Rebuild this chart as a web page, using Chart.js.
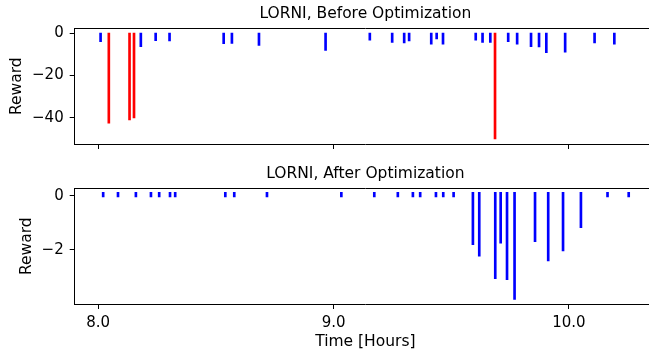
<!DOCTYPE html>
<html>
<head>
<meta charset="utf-8">
<script src="https://cdn.jsdelivr.net/npm/chart.js@4.4.1/dist/chart.umd.min.js"></script>
<style>
    html, body { margin: 0; padding: 0; background: #fff; }
    body { width: 649px; height: 356px; overflow: hidden; position: relative; }
    .panel { position: absolute; left: 0; width: 656px; }
    #topPanel { top: 0; height: 160px; }
    #bottomPanel { top: 160px; height: 196px; }
</style>
</head>
<body>
<div class="panel" id="topPanel"><canvas id="beforeChart"></canvas></div>
<div class="panel" id="bottomPanel"><canvas id="afterChart"></canvas></div>
<script>
// reward events over time (hours), before optimization
const beforeTimes = [8.010, 8.181, 8.244, 8.303, 8.533, 8.568, 8.683, 8.966, 9.154, 9.249,
    9.300, 9.321, 9.415, 9.438, 9.465, 9.604, 9.633, 9.666, 9.742, 9.780,
    9.839, 9.873, 9.904, 9.984, 10.109, 10.193];
const beforeRewards = [-4.0, -6.3, -3.5, -3.6, -4.9, -4.8, -5.7, -8.1, -3.3, -4.3,
    -4.6, -3.6, -5.2, -2.7, -5.1, -3.3, -4.3, -4.3, -4.0, -5.1,
    -6.3, -6.5, -9.2, -9.0, -4.6, -5.2];
// large penalties (drawn red)
const failTimes = [8.045, 8.133, 8.152, 9.686];
const failRewards = [-42.6, -41.1, -40.1, -50.0];

// after optimization
const afterTimes = [8.021, 8.084, 8.160, 8.224, 8.259, 8.305, 8.327, 8.540, 8.578, 8.717,
    9.033, 9.173, 9.273, 9.337, 9.368, 9.435, 9.466, 9.510, 9.592, 9.619,
    9.687, 9.710, 9.737, 9.769, 9.856, 9.912, 9.975, 10.051, 10.164, 10.254];
const afterRewards = [-0.03, -0.03, -0.03, -0.03, -0.03, -0.03, -0.03, -0.03, -0.03, -0.03,
    -0.03, -0.03, -0.03, -0.03, -0.03, -0.03, -0.03, -0.03, -1.80, -2.23,
    -3.06, -1.75, -3.10, -3.83, -1.69, -2.40, -2.03, -1.17, -0.03, -0.03];

// lines start slightly above zero
const lineBase = 0.14;

const xTicks = [8, 9, 10];
const beforeYTicks = [0, -20, -40];
const afterYTicks = [0, -2];

Chart.defaults.font.family = "'DejaVu Sans', sans-serif";
Chart.defaults.color = '#000';

const fontTick = { size: 15 };
const fontLabel = { size: 15.5 };

const toLines = (times, rewards) => times.map((t, i) => ({ x: t, y: [lineBase, rewards[i]] }));

const minusFmt = (v) => v < 0 ? '\u2212' + Math.abs(v) : '' + v;

const fixedTicks = (arr) => (scale) => {
    scale.ticks = arr.map(v => ({ value: v }));
};

const lineSet = (data, color) => ({
    data: data,
    backgroundColor: color,
    borderWidth: 0,
    barThickness: 2,
    grouped: false
});

const makeChart = (settings) => {
    const bottomAxis = settings.showX;
    return new Chart(document.getElementById(settings.chartID), {
        type: 'bar',
        data: { datasets: settings.datasets },
        options: {
            responsive: true,
            maintainAspectRatio: false,
            animation: false,
            layout: { padding: 0 },
            plugins: { legend: { display: false }, tooltip: { enabled: false } },
            scales: {
                x: {
                    type: 'linear',
                    position: 'bottom',
                    min: 7.90,
                    max: 10.37,
                    offset: false,
                    afterBuildTicks: fixedTicks(xTicks),
                    afterFit: (s) => { s.height = settings.xHeight; },
                    grid: { drawOnChartArea: false, offset: false, tickLength: 5, tickColor: '#000', tickWidth: 1 },
                    border: { display: true, color: '#000', width: 1 },
                    ticks: {
                        display: bottomAxis,
                        font: fontTick,
                        padding: 5,
                        maxRotation: 0,
                        callback: (v) => v.toFixed(1)
                    },
                    title: {
                        display: bottomAxis,
                        text: 'Time [Hours]',
                        font: fontLabel,
                        padding: { top: 0, bottom: 4.7 }
                    }
                },
                xTop: {
                    type: 'linear',
                    position: 'top',
                    min: 7.90,
                    max: 10.37,
                    afterFit: (s) => { s.height = 28.3; },
                    grid: { display: false },
                    border: { display: true, color: '#000', width: 1 },
                    ticks: { display: false },
                    title: {
                        display: true,
                        text: settings.title,
                        font: fontLabel,
                        padding: { top: 4.5, bottom: 0 }
                    }
                },
                y: {
                    type: 'linear',
                    min: settings.yMin,
                    max: settings.yMax,
                    afterBuildTicks: fixedTicks(settings.yTicks),
                    afterFit: (s) => { s.width = 74.7; },
                    grid: { drawOnChartArea: false, tickLength: 5, tickColor: '#000', tickWidth: 1 },
                    border: { display: true, color: '#000', width: 1 },
                    ticks: { font: fontTick, padding: 6, callback: minusFmt },
                    title: {
                        display: true,
                        text: 'Reward',
                        font: fontLabel,
                        padding: { top: settings.yTitlePad, bottom: 0 }
                    }
                }
            }
        }
    });
};

makeChart({
    chartID: 'beforeChart',
    title: 'LORNI, Before Optimization',
    datasets: [
        lineSet(toLines(beforeTimes, beforeRewards), '#0000ff'),
        lineSet(toLines(failTimes, failRewards), '#ff0000')
    ],
    yMin: -52.46,
    yMax: 2.37,
    yTicks: beforeYTicks,
    yTitlePad: 7.4,
    xHeight: 16,
    showX: false
});

makeChart({
    chartID: 'afterChart',
    title: 'LORNI, After Optimization',
    datasets: [
        lineSet(toLines(afterTimes, afterRewards), '#0000ff')
    ],
    yMin: -4.0,
    yMax: 0.285,
    yTicks: afterYTicks,
    yTitlePad: 17.4,
    xHeight: 52,
    showX: true
});
</script>
</body>
</html>
